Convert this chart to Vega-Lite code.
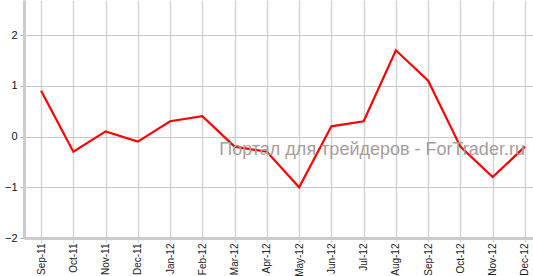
{
  "$schema": "https://vega.github.io/schema/vega-lite/v6.json",
  "width": 518,
  "height": 238,
  "autosize": {"type": "none"},
  "padding": {"left": 24, "top": 0, "right": 0, "bottom": 38},
  "background": "white",
  "config": {
    "view": {"stroke": null},
    "font": "Liberation Sans"
  },
  "datasets": {
    "main": [
      {"month": "Sep-11", "value": 0.9},
      {"month": "Oct-11", "value": -0.3},
      {"month": "Nov-11", "value": 0.1},
      {"month": "Dec-11", "value": -0.1},
      {"month": "Jan-12", "value": 0.3},
      {"month": "Feb-12", "value": 0.4},
      {"month": "Mar-12", "value": -0.2},
      {"month": "Apr-12", "value": -0.3},
      {"month": "May-12", "value": -1.0},
      {"month": "Jun-12", "value": 0.2},
      {"month": "Jul-12", "value": 0.3},
      {"month": "Aug-12", "value": 1.7},
      {"month": "Sep-12", "value": 1.1},
      {"month": "Oct-12", "value": -0.2},
      {"month": "Nov-12", "value": -0.8},
      {"month": "Dec-12", "value": -0.2}
    ],
    "mark": [
      {"month": "Dec-12", "value": -0.27, "label": "Портал для трейдеров - ForTrader.ru"}
    ]
  },
  "layer": [
    {
      "data": {"name": "main"},
      "mark": {"type": "line", "color": "#ff0000", "strokeWidth": 2.2},
      "encoding": {
        "x": {
          "field": "month",
          "type": "ordinal",
          "sort": null,
          "scale": {"type": "point", "padding": 0.53},
          "axis": {
            "title": null,
            "labelAngle": -90,
            "labelAlign": "right",
            "labelBaseline": "middle",
            "labelFontSize": 10,
            "labelColor": "#222222",
            "labelPadding": 1,
            "domainColor": "#cccccc",
            "domainWidth": 3,
            "tickColor": "#cccccc",
            "tickSize": 4,
            "grid": true,
            "gridColor": "#d4d4d4",
            "gridWidth": 1.5
          }
        },
        "y": {
          "field": "value",
          "type": "quantitative",
          "scale": {"domain": [-2, 2.69], "nice": false, "zero": false},
          "axis": {
            "title": null,
            "values": [-2, -1, 0, 1, 2],
            "labelFontSize": 11,
            "labelColor": "#111111",
            "labelPadding": 3,
            "domainColor": "#cccccc",
            "domainWidth": 3,
            "tickColor": "#aaaaaa",
            "tickSize": 4,
            "grid": true,
            "gridColor": "#c8c8c8",
            "gridWidth": 1
          }
        }
      }
    },
    {
      "data": {"name": "mark"},
      "mark": {"type": "text", "align": "right", "baseline": "middle", "fontSize": 18, "color": "#a89c9c", "font": "Liberation Sans"},
      "encoding": {
        "x": {"field": "month", "type": "ordinal", "sort": null},
        "y": {"field": "value", "type": "quantitative"},
        "text": {"field": "label"}
      }
    }
  ]
}
